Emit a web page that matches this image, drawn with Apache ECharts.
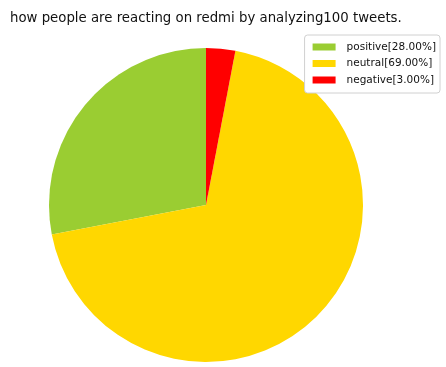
<!DOCTYPE html>
<html><head><meta charset="utf-8">
<script src="https://cdn.jsdelivr.net/npm/echarts@6/dist/echarts.min.js"></script>
<style>html,body{margin:0;padding:0;background:#fff}#c{width:446px;height:367px}</style>
</head><body><div id="c"></div>
<script>
const categories = ["positive", "neutral", "negative"];
const values = [28, 69, 3];
const colors = ["#9ACD32", "#FFD700", "#FF0000"];
const titleText = "how people are reacting on redmi by analyzing100 tweets.";

const labels = categories.map((c, i) => c + "[" + values[i].toFixed(2) + "%]");
const chart = echarts.init(document.getElementById('c'));
chart.setOption({
  animation: false,
  title: {
    text: titleText, left: 10, top: 12, padding: 0,
    textStyle: {fontFamily: "DejaVu Sans", fontSize: 13.3, fontWeight: "normal", color: "#111"}
  },
  legend: {
    orient: "vertical", right: 6, top: 35,
    data: labels,
    backgroundColor: "#fff", borderColor: "#d0d0d0", borderWidth: 1, borderRadius: 3,
    padding: [6, 4, 7, 8], itemGap: 4.5,
    itemWidth: 23, itemHeight: 7, icon: "rect",
    textStyle: {fontFamily: "DejaVu Sans", fontSize: 10.5, lineHeight: 12, color: "#111", padding: [0, 0, 0, 6]}
  },
  series: [{
    type: "pie",
    center: [206, 205], radius: 157,
    startAngle: 90, clockwise: false,
    label: {show: false}, labelLine: {show: false},
    emphasis: {disabled: true},
    data: labels.map((l, i) => ({name: l, value: values[i], itemStyle: {color: colors[i]}}))
  }]
});
</script></body></html>
